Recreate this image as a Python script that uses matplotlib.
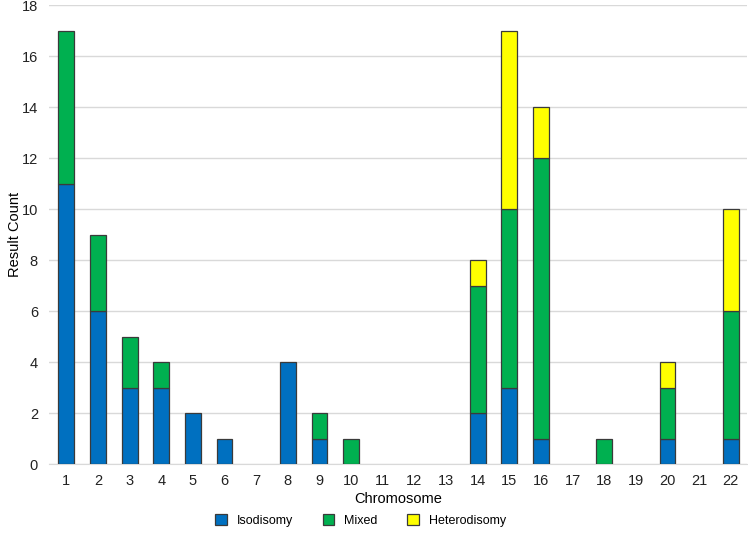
import numpy as np
import matplotlib.pyplot as plt

plt.rcParams['font.family'] = ['Liberation Sans', 'DejaVu Sans']

# Data
chromosomes = [str(i) for i in range(1, 23)]
isodisomy = [11, 6, 3, 3, 2, 1, 0, 4, 1, 0, 0, 0, 0, 2, 3, 1, 0, 0, 0, 1, 0, 1]
mixed = [6, 3, 2, 1, 0, 0, 0, 0, 1, 1, 0, 0, 0, 5, 7, 11, 0, 1, 0, 2, 0, 5]
heterodisomy = [0, 0, 0, 0, 0, 0, 0, 0, 0, 0, 0, 0, 0, 1, 7, 2, 0, 0, 0, 1, 0, 4]

x = np.arange(1, 23)
iso = np.array(isodisomy)
mix = np.array(mixed)
het = np.array(heterodisomy)

fig = plt.figure(figsize=(7.48, 5.38), dpi=100)
ax = fig.add_axes([0.0655, 0.1375, 0.9325, 0.853])

edge = '#3a3a3a'
w = 0.5
series = [(iso, np.zeros_like(iso), '#0070C0', 'Isodisomy'),
          (mix, iso, '#00B050', 'Mixed'),
          (het, iso + mix, '#FFFF00', 'Heterodisomy')]
for vals, bottom, col, lab in series:
    m = vals > 0  # skip empty segments
    ax.bar(x[m], vals[m], w, bottom=bottom[m], color=col, edgecolor=edge,
           linewidth=0.9, label=lab, zorder=3)

ax.set_xlim(0.45, 22.5)
ax.set_ylim(0, 18)
ax.set_yticks(range(0, 19, 2))
ax.set_xticks(x)
ax.set_xticklabels(chromosomes)
ax.yaxis.grid(True, color='#d9d9d9', linewidth=1)
ax.set_axisbelow(True)
for s in ['top', 'right', 'left']:
    ax.spines[s].set_visible(False)
ax.spines['bottom'].set_color('#d9d9d9')
ax.tick_params(axis='both', length=0, labelsize=10.5, colors='#222222')
ax.tick_params(axis='x', pad=7)
ax.tick_params(axis='y', pad=8)

ax.set_xlabel('Chromosome', fontsize=10.5, labelpad=3)
ax.set_ylabel('Result Count', fontsize=10.5)
ax.yaxis.set_label_coords(-0.038, 0.5)

fig.legend(loc='lower center', bbox_to_anchor=(0.482, 0.0), ncol=3, frameon=False,
           fontsize=9, handlelength=0.9, handleheight=0.9, columnspacing=2.4,
           handletextpad=0.8)

fig.savefig('out.png', dpi=100)
